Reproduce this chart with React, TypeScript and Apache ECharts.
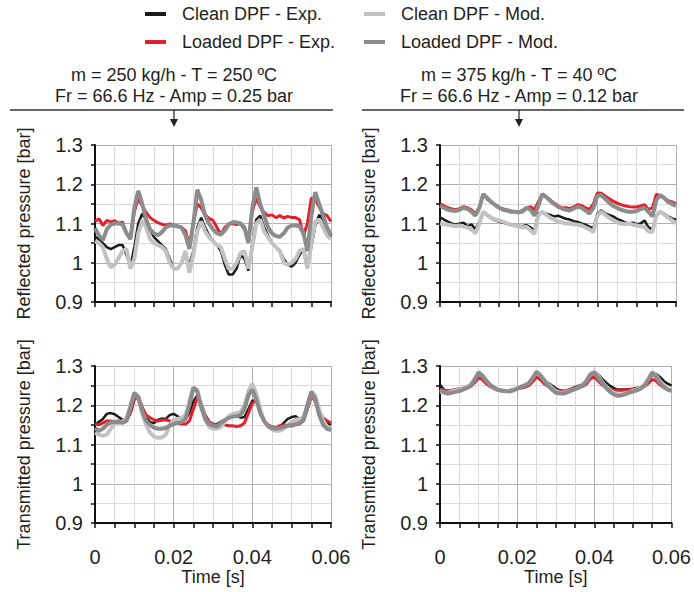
import React, { useEffect, useRef } from "react";
import * as echarts from "echarts";

// time axis in milliseconds (sample every 1 ms)
const TIME_MS = [0,1,2,3,4,5,6,7,8,9,10,11,12,13,14,15,16,17,18,19,20,21,22,23,24,25,26,27,28,29,30,31,32,33,34,35,36,37,38,39,40,41,42,43,44,45,46,47,48,49,50,51,52,53,54,55,56,57,58,59,60];

const NAME_CE = "Clean DPF - Exp.";
const NAME_LE = "Loaded DPF - Exp.";
const NAME_CM = "Clean DPF - Mod.";
const NAME_LM = "Loaded DPF - Mod.";

const X_TICK_LABELS = ["0", "0.02", "0.04", "0.06"];
const Y_TICK_LABELS = ["0.9", "1", "1.1", "1.2", "1.3"];

const TITLE_LEFT = ["m = 250 kg/h - T = 250 ºC", "Fr = 66.6 Hz - Amp = 0.25 bar"];
const TITLE_RIGHT = ["m = 375 kg/h - T = 40 ºC", "Fr = 66.6 Hz - Amp = 0.12 bar"];

// ---------- top-left: reflected, 250 kg/h ----------
const TL_CE = [1.067,1.06,1.05,1.04,1.035,1.04,1.045,1.045,1.02,0.99,1.04,1.10,1.125,1.11,1.085,1.065,1.055,1.045,1.035,1.01,0.985,0.985,1.0,1.02,0.995,1.03,1.09,1.115,1.09,1.07,1.055,1.045,1.03,0.995,0.97,0.97,0.985,1.02,1.01,0.98,1.05,1.11,1.12,1.09,1.07,1.05,1.04,1.03,1.01,0.995,0.99,1.0,1.02,1.035,0.995,1.04,1.095,1.122,1.11,1.085,1.065];
const TL_LE = [1.105,1.112,1.095,1.108,1.104,1.107,1.10,1.104,1.075,1.065,1.13,1.163,1.145,1.128,1.115,1.108,1.102,1.098,1.095,1.099,1.096,1.093,1.09,1.082,1.045,1.10,1.15,1.14,1.122,1.113,1.108,1.09,1.072,1.09,1.099,1.10,1.097,1.10,1.085,1.065,1.13,1.165,1.142,1.128,1.12,1.122,1.115,1.12,1.114,1.118,1.115,1.115,1.11,1.07,1.10,1.165,1.162,1.142,1.125,1.12,1.105];
const TL_CM = [1.055,1.05,1.04,1.01,0.988,0.995,1.012,1.03,1.035,0.985,1.01,1.075,1.108,1.09,1.06,1.05,1.045,1.04,1.03,1.0,0.985,0.985,1.0,1.03,0.975,1.02,1.08,1.105,1.08,1.065,1.055,1.045,1.04,1.01,0.985,0.985,1.0,1.025,1.03,0.985,1.04,1.10,1.11,1.08,1.065,1.05,1.04,1.03,1.0,0.995,1.0,1.01,1.03,1.035,0.985,1.05,1.105,1.11,1.09,1.07,1.06];
const TL_LM = [1.088,1.07,1.058,1.085,1.097,1.10,1.10,1.098,1.075,1.06,1.14,1.183,1.15,1.11,1.085,1.075,1.07,1.078,1.09,1.095,1.095,1.093,1.09,1.07,1.035,1.10,1.186,1.16,1.12,1.10,1.085,1.075,1.072,1.082,1.098,1.103,1.103,1.10,1.09,1.05,1.14,1.192,1.15,1.12,1.09,1.075,1.068,1.066,1.075,1.09,1.095,1.095,1.093,1.075,1.03,1.12,1.18,1.15,1.12,1.09,1.07];

// ---------- top-right: reflected, 375 kg/h ----------
const TR_CE = [1.116,1.11,1.105,1.10,1.097,1.10,1.102,1.093,1.098,1.085,1.105,1.13,1.12,1.113,1.108,1.105,1.102,1.10,1.098,1.096,1.094,1.093,1.096,1.09,1.082,1.125,1.128,1.125,1.122,1.118,1.12,1.116,1.112,1.11,1.106,1.104,1.10,1.097,1.092,1.088,1.125,1.133,1.126,1.122,1.118,1.112,1.108,1.103,1.10,1.102,1.098,1.10,1.108,1.09,1.085,1.12,1.13,1.125,1.118,1.113,1.11];
const TR_LE = [1.15,1.145,1.14,1.137,1.135,1.138,1.143,1.14,1.135,1.125,1.14,1.175,1.162,1.155,1.148,1.142,1.137,1.135,1.132,1.13,1.128,1.13,1.138,1.143,1.135,1.155,1.173,1.168,1.16,1.152,1.145,1.14,1.14,1.138,1.142,1.148,1.146,1.14,1.136,1.15,1.178,1.177,1.17,1.163,1.157,1.152,1.148,1.145,1.143,1.142,1.142,1.145,1.148,1.136,1.14,1.175,1.17,1.165,1.158,1.155,1.15];
const TR_CM = [1.10,1.098,1.097,1.095,1.093,1.095,1.092,1.09,1.085,1.075,1.10,1.13,1.122,1.115,1.11,1.108,1.105,1.10,1.097,1.095,1.093,1.09,1.092,1.083,1.073,1.12,1.13,1.122,1.115,1.11,1.105,1.103,1.10,1.10,1.098,1.097,1.095,1.09,1.085,1.078,1.12,1.13,1.122,1.115,1.108,1.103,1.10,1.098,1.10,1.097,1.095,1.093,1.092,1.08,1.078,1.12,1.13,1.123,1.115,1.108,1.10];
const TR_LM = [1.145,1.14,1.135,1.133,1.132,1.135,1.14,1.137,1.13,1.12,1.14,1.175,1.165,1.155,1.147,1.14,1.135,1.133,1.13,1.13,1.128,1.133,1.14,1.135,1.12,1.145,1.175,1.168,1.158,1.15,1.143,1.138,1.135,1.133,1.138,1.143,1.14,1.133,1.125,1.14,1.17,1.172,1.163,1.153,1.145,1.14,1.135,1.132,1.13,1.13,1.132,1.137,1.14,1.13,1.118,1.16,1.172,1.165,1.155,1.15,1.145];

// ---------- bottom-left: transmitted, 250 kg/h ----------
const BL_CE = [1.15,1.158,1.165,1.178,1.18,1.177,1.17,1.163,1.16,1.18,1.215,1.22,1.19,1.168,1.157,1.155,1.163,1.166,1.165,1.175,1.178,1.172,1.166,1.165,1.18,1.21,1.225,1.20,1.175,1.158,1.15,1.152,1.158,1.163,1.168,1.172,1.175,1.168,1.17,1.19,1.212,1.21,1.185,1.16,1.148,1.142,1.14,1.145,1.155,1.165,1.17,1.172,1.165,1.165,1.19,1.222,1.215,1.185,1.163,1.155,1.15];
const BL_LE = [1.152,1.15,1.155,1.16,1.16,1.158,1.16,1.16,1.162,1.18,1.215,1.225,1.195,1.175,1.168,1.163,1.16,1.162,1.163,1.16,1.157,1.155,1.152,1.152,1.16,1.19,1.22,1.205,1.175,1.158,1.152,1.15,1.152,1.15,1.148,1.148,1.146,1.148,1.155,1.18,1.205,1.213,1.185,1.16,1.15,1.145,1.143,1.148,1.15,1.148,1.147,1.15,1.152,1.16,1.19,1.225,1.21,1.185,1.168,1.16,1.155];
const BL_CM = [1.13,1.125,1.122,1.125,1.14,1.152,1.155,1.158,1.165,1.20,1.23,1.22,1.18,1.15,1.13,1.12,1.117,1.118,1.125,1.15,1.162,1.165,1.168,1.175,1.21,1.245,1.24,1.20,1.165,1.145,1.14,1.14,1.145,1.158,1.172,1.178,1.18,1.183,1.20,1.235,1.255,1.23,1.19,1.16,1.145,1.138,1.135,1.135,1.14,1.148,1.158,1.163,1.165,1.17,1.20,1.232,1.225,1.19,1.16,1.145,1.14];
const BL_LM = [1.142,1.135,1.14,1.15,1.156,1.158,1.157,1.155,1.16,1.195,1.232,1.22,1.185,1.16,1.15,1.143,1.14,1.14,1.142,1.148,1.152,1.155,1.157,1.165,1.20,1.245,1.235,1.195,1.165,1.152,1.148,1.146,1.155,1.162,1.168,1.171,1.172,1.175,1.19,1.225,1.24,1.215,1.18,1.16,1.148,1.142,1.14,1.142,1.145,1.148,1.15,1.152,1.155,1.162,1.20,1.235,1.215,1.175,1.15,1.14,1.137];

// ---------- bottom-right: transmitted, 375 kg/h ----------
const BR_CE = [1.252,1.24,1.236,1.237,1.24,1.242,1.245,1.248,1.252,1.265,1.28,1.272,1.26,1.25,1.243,1.238,1.236,1.236,1.235,1.237,1.242,1.246,1.25,1.255,1.267,1.283,1.276,1.265,1.257,1.25,1.243,1.238,1.236,1.238,1.242,1.246,1.25,1.254,1.265,1.28,1.285,1.278,1.268,1.258,1.25,1.244,1.24,1.24,1.24,1.241,1.242,1.244,1.246,1.25,1.262,1.278,1.28,1.272,1.262,1.255,1.25];
const BR_LE = [1.24,1.238,1.237,1.238,1.24,1.242,1.243,1.245,1.248,1.258,1.27,1.265,1.255,1.248,1.242,1.238,1.237,1.237,1.238,1.24,1.242,1.244,1.246,1.25,1.26,1.272,1.265,1.255,1.248,1.242,1.238,1.236,1.236,1.238,1.24,1.243,1.245,1.248,1.255,1.268,1.272,1.262,1.252,1.245,1.24,1.238,1.238,1.238,1.239,1.24,1.241,1.242,1.244,1.248,1.256,1.266,1.262,1.252,1.245,1.24,1.237];
const BR_CM = [1.235,1.232,1.232,1.235,1.238,1.24,1.243,1.247,1.253,1.268,1.285,1.276,1.263,1.252,1.244,1.24,1.238,1.237,1.236,1.24,1.244,1.248,1.252,1.258,1.27,1.286,1.278,1.266,1.254,1.244,1.236,1.232,1.232,1.235,1.238,1.242,1.246,1.252,1.265,1.28,1.285,1.274,1.26,1.248,1.238,1.232,1.228,1.228,1.23,1.233,1.237,1.24,1.245,1.253,1.268,1.285,1.275,1.262,1.25,1.242,1.238];
const BR_LM = [1.24,1.233,1.23,1.232,1.234,1.236,1.24,1.244,1.25,1.265,1.283,1.275,1.262,1.252,1.245,1.24,1.237,1.236,1.235,1.238,1.242,1.246,1.25,1.255,1.268,1.285,1.275,1.262,1.25,1.24,1.232,1.23,1.23,1.233,1.237,1.241,1.245,1.25,1.262,1.278,1.283,1.27,1.257,1.245,1.235,1.228,1.224,1.225,1.228,1.232,1.235,1.238,1.242,1.25,1.265,1.283,1.272,1.258,1.247,1.24,1.237];

const COLOR_CE = "#1b1b1b";
const COLOR_LE = "#e3202a";
const COLOR_CM = "#c2c2c2";
const COLOR_LM = "#8c8c8c";

const FONT = '"Liberation Sans", Arial, sans-serif';
const TEXT_COLOR = "#231f20";

const PANELS = [
  { left: 95, top: 145, bottom: false, yName: "Reflected pressure [bar]", data: [TL_CE, TL_LE, TL_CM, TL_LM] },
  { left: 440, top: 145, bottom: false, yName: "Reflected pressure [bar]", data: [TR_CE, TR_LE, TR_CM, TR_LM] },
  { left: 95, top: 366, bottom: true, yName: "Transmitted pressure [bar]", data: [BL_CE, BL_LE, BL_CM, BL_LM] },
  { left: 440, top: 366, bottom: true, yName: "Transmitted pressure [bar]", data: [BR_CE, BR_LE, BR_CM, BR_LM] },
];

const SERIES_STYLE = [
  { name: NAME_CE, color: COLOR_CE, width: 2.5 },
  { name: NAME_LE, color: COLOR_LE, width: 3 },
  { name: NAME_CM, color: COLOR_CM, width: 4 },
  { name: NAME_LM, color: COLOR_LM, width: 4 },
];

function xLabel(v: number): string {
  const ms = Math.round(v * 1000);
  if (ms % 20 !== 0) return "";
  return X_TICK_LABELS[ms / 20] ?? "";
}

function yLabel(v: number): string {
  const h = Math.round(v * 100);
  if (h % 10 !== 0) return "";
  return Y_TICK_LABELS[(h - 90) / 10] ?? "";
}

export default function App() {
  const ref = useRef<HTMLDivElement>(null);

  useEffect(() => {
    if (!ref.current) return;
    const chart = echarts.init(ref.current, null, { renderer: "svg" });

    const grids = PANELS.map((p) => ({ left: p.left, top: p.top, width: 236, height: 157, containLabel: false }));

    const xAxes = PANELS.map((p, i) => ({
      gridIndex: i,
      type: "value",
      min: 0,
      max: 0.06,
      interval: 0.005,
      axisLine: { show: true, onZero: false, lineStyle: { color: "#111", width: 2 } },
      axisTick: { show: true, length: 5, lineStyle: { color: "#111", width: 1.5 } },
      axisLabel: { show: p.bottom, formatter: xLabel, fontSize: 20, color: TEXT_COLOR, fontFamily: FONT, margin: 24 },
      splitLine: { show: true, lineStyle: { color: ["#b0b0b0", "#dcdcdc", "#dcdcdc", "#dcdcdc"], width: 1 } },
      name: p.bottom ? "Time [s]" : "",
      nameLocation: "middle",
      nameGap: 44,
      nameTextStyle: { fontSize: 18, color: TEXT_COLOR, fontFamily: FONT },
    }));

    const yAxes = PANELS.map((p, i) => ({
      gridIndex: i,
      type: "value",
      min: 0.9,
      max: 1.3,
      interval: 0.05,
      axisLine: { show: true, onZero: false, lineStyle: { color: "#111", width: 2 } },
      axisTick: { show: true, length: 4, lineStyle: { color: "#111", width: 1.5 } },
      axisLabel: { formatter: yLabel, fontSize: 20, color: TEXT_COLOR, fontFamily: FONT, margin: 12 },
      splitLine: { show: true, lineStyle: { color: ["#b0b0b0", "#dcdcdc"], width: 1 } },
      name: p.yName,
      nameLocation: "middle",
      nameGap: 62,
      nameTextStyle: { fontSize: 18, color: TEXT_COLOR, fontFamily: FONT },
    }));

    const series: any[] = [];
    PANELS.forEach((p, i) => {
      SERIES_STYLE.forEach((s, k) => {
        series.push({
          type: "line",
          name: s.name,
          xAxisIndex: i,
          yAxisIndex: i,
          showSymbol: false,
          symbol: "none",
          smooth: false,
          color: s.color,
          lineStyle: { color: s.color, width: s.width },
          data: TIME_MS.map((ms, j) => [ms / 1000, p.data[k][j]]),
          z: 2 + k,
        });
      });
    });

    const legendCommon = {
      padding: 0,
      itemWidth: 21,
      itemHeight: 4,
      icon: "rect",
      selectedMode: false,
      textStyle: { fontSize: 18, color: TEXT_COLOR, fontFamily: FONT, padding: [0, 0, 0, 11] },
    };

    const titleLine = (cx: number, x1: number, x2: number, lines: string[]) => [
      {
        type: "text",
        x: cx,
        y: 64,
        style: {
          text: lines.join("\n"),
          textAlign: "center",
          textVerticalAlign: "top",
          font: `18px ${FONT}`,
          lineHeight: 21,
          fill: TEXT_COLOR,
        },
      },
      { type: "line", shape: { x1, y1: 110, x2, y2: 110 }, style: { stroke: "#333", lineWidth: 1.5 } },
      { type: "line", shape: { x1: cx, y1: 110, x2: cx, y2: 121 }, style: { stroke: "#222", lineWidth: 1.2 } },
      { type: "polygon", shape: { points: [[cx - 4, 119], [cx + 4, 119], [cx, 127]] }, style: { fill: "#222" } },
    ];

    chart.setOption({
      animation: false,
      backgroundColor: "#ffffff",
      textStyle: { fontFamily: FONT },
      grid: grids,
      xAxis: xAxes,
      yAxis: yAxes,
      legend: [
        { ...legendCommon, data: [NAME_CE], left: 145, top: 5 },
        { ...legendCommon, data: [NAME_CM], left: 364, top: 5 },
        { ...legendCommon, data: [NAME_LE], left: 145, top: 33 },
        { ...legendCommon, data: [NAME_LM], left: 364, top: 33 },
      ],
      graphic: [...titleLine(174, 10, 333, TITLE_LEFT), ...titleLine(519, 362, 684, TITLE_RIGHT)],
      series,
    });

    return () => chart.dispose();
  }, []);

  return <div ref={ref} style={{ position: "fixed", left: 0, top: 0, width: 694, height: 592 }} />;
}
